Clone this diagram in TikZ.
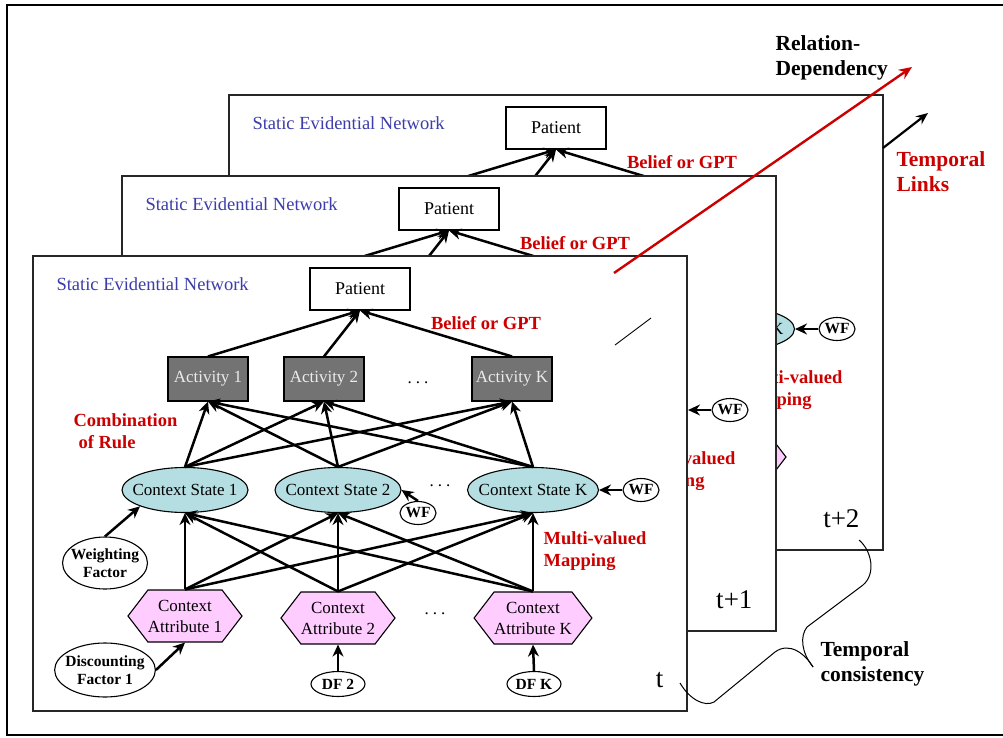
\documentclass[tikz,border=0pt]{standalone}
\usepackage{fontspec}
\setmainfont{Liberation Serif}
\usepackage{xcolor}
\usetikzlibrary{arrows.meta}
\usetikzlibrary{shapes.geometric}
\usetikzlibrary{shapes.symbols}

\definecolor{netblue}{RGB}{60,60,170}
\definecolor{rulered}{RGB}{204,0,0}
\definecolor{actgray}{RGB}{115,115,115}
\definecolor{statecyan}{RGB}{180,222,226}
\definecolor{attrpink}{RGB}{255,204,255}

\tikzset{
  frame/.style={draw=black!85, line width=1.3pt, fill=white},
  patient/.style={draw, line width=1.1pt, fill=white, minimum width=100pt, minimum height=42pt, font=\fontsize{18}{20}\selectfont},
  activity/.style={draw, line width=1.1pt, fill=actgray, text=black!8, minimum width=80pt, minimum height=44pt, font=\fontsize{17}{19}\selectfont},
  cstate/.style={ellipse, draw, line width=1.1pt, fill=statecyan, minimum width=126pt, minimum height=45pt, inner xsep=-8pt, inner ysep=0pt, font=\fontsize{17}{19}\selectfont},
  cattr/.style={signal, signal to=east and west, signal pointer angle=105, draw, line width=1.1pt, fill=attrpink, minimum width=114pt, minimum height=52pt, inner sep=0pt, align=center, font=\fontsize{17}{21}\selectfont},
  factor/.style={ellipse, draw, line width=1.1pt, fill=white, inner sep=0pt, align=center, font=\bfseries\fontsize{15.5}{18}\selectfont},
  lab/.style={text=rulered, align=left, font=\bfseries\fontsize{18.5}{22.5}\selectfont},
  biglab/.style={align=left, anchor=west, font=\bfseries\fontsize{21.5}{25}\selectfont},
  dots/.style={font=\fontsize{17}{19}\selectfont},
  link/.style={line width=2.5pt, -{Stealth[length=12pt,width=11pt]}},
}

\begin{document}
\begin{tikzpicture}[x=1pt, y=-1pt]
    \useasboundingbox (0,0) rectangle (1003,738);
    \draw[line width=1.4pt] (1003,5) -- (7,5) -- (7,735) -- (1003,735);

    % one static network per time slice, back to front
    % (slices 1 and 2 only get the parts that stick out)
    \foreach \fr/\dx/\dy/\tl/\la/\lb in {2/196/-161/t+2/{(564,401)}/{(651,337)},
                                        1/89/-80/t+1/{(581,384)}/{(660,327)},
                                        0/0/0/t/{(615,345)}/{(651,318)}} {
    \begin{scope}[shift={(\dx,\dy)}]
    \draw[frame] (33,256) rectangle (687,711);
    \node[anchor=west, text=netblue, font=\fontsize{18.5}{20}\selectfont] (title\fr) at (53,284) {Static Evidential Network};
    \node[patient] (pat\fr) at (360,289) {Patient};
    \node[activity] (a1\fr) at (208,379) {\ifnum\fr=0 Activity 1\fi};
    \node[activity] (a2\fr) at (324,379) {\ifnum\fr=0 Activity 2\fi};
    \node[activity] (aK\fr) at (512,379) {\ifnum\fr=0 Activity K\fi};
    \node[lab] (bel\fr) at (486,323) {Belief or GPT};
    \node[cstate] (sK\fr) at (533,490) {Context State K};
    \node[factor, minimum width=36pt, minimum height=23pt] (wfK\fr) at (641,490) {WF};
    \node[lab, anchor=west] (map\fr) at (540,551) {Multi-valued\\Mapping};
    \node[cattr] (cK\fr) at (533,618) {\ifnum\fr=0 Context\\Attribute K\fi};
    \node[anchor=east, font=\fontsize{27}{30}\selectfont] (tl\fr) at (667,680) {\tl};
    \foreach \a in {1,2,K} \draw[link] (a\a\fr.north) -- (pat\fr.south);
    \draw[link] (wfK\fr.west) -- (sK\fr.east);

    \ifnum\fr=0
    \node[dots] (ad\fr) at (418,383) {.\hspace{4pt}.\hspace{4pt}.};
    \node[lab, anchor=west] (comb\fr) at (70,431) {Combination\\\hspace{5pt}of Rule};
    \node[cstate] (s1\fr) at (185,490) {Context State 1};
    \node[cstate] (s2\fr) at (338,490) {Context State 2};
    \node[dots] (sd\fr) at (440,486) {.\hspace{4pt}.\hspace{4pt}.};
    \node[factor, minimum width=36pt, minimum height=23pt] (wf2\fr) at (418,513) {WF};
    \node[factor, inner xsep=-4pt, minimum height=52pt] (wt\fr) at (105,563) {Weighting\\Factor};
    \node[cattr] (c1\fr) at (185,616) {Context\\Attribute 1};
    \node[cattr] (c2\fr) at (338,618) {Context\\Attribute 2};
    \node[dots] (cd\fr) at (435,614) {.\hspace{4pt}.\hspace{4pt}.};
    \node[factor, inner xsep=-4pt, minimum height=54pt] (df1\fr) at (105,670) {Discounting\\Factor 1};
    \node[factor, minimum width=54pt, minimum height=25pt] (df2\fr) at (338,684) {DF 2};
    \node[factor, minimum width=54pt, minimum height=25pt] (dfK\fr) at (534,684) {DF K};

    \foreach \s in {1,2,K} {
      \foreach \a in {1,2,K} \draw[link] (s\s\fr.north) -- (a\a\fr.south);
    }
    \foreach \c in {1,2,K} {
      \foreach \s in {1,2,K} \draw[link] (c\c\fr.north) -- (s\s\fr.south);
    }
    \draw[link] (wt\fr.north) -- (s1\fr.south west);
    \draw[link] (wf2\fr.north) -- (s2\fr.east);
    \draw[link] (df1\fr.east) -- (c1\fr.south);
    \draw[link] (df2\fr.north) -- (c2\fr.south);
    \draw[link] (dfK\fr.north) -- (cK\fr.south);
    \fi
    \end{scope}
    % piece of the temporal link inside this slice
    \draw[line width=0.9pt] \la -- \lb;
    }

    \coordinate (tlkstart) at (883,148);
    \coordinate (tlkend) at (928,113);
    \draw[line width=2.2pt, -{Stealth[length=12pt,width=10pt]}] (tlkstart) -- (tlkend);
    \node[biglab, text=rulered] (tlinks) at (893,172) {Temporal\\Links};

    \coordinate (relstart) at (614,273);
    \coordinate (relend) at (912,67);
    \draw[rulered, line width=2.4pt, -{Stealth[length=13pt,width=11pt]}] (relstart) -- (relend);
    \node[biglab] (reldep) at (772,58) {Relation-\\Dependency};

    \node[biglab] (tcons) at (817,664) {Temporal\\consistency};
    \coordinate (brtip) at (813,667);
    \draw[line width=1pt] (680,683) .. controls (690,700) and (705,707) .. (714,702)
        -- (775,652) .. controls (790,641) and (806,655) .. (brtip);
    \draw[line width=1pt] (brtip) .. controls (801,652) and (800,636) .. (807,627)
        -- (863,585) .. controls (876,574) and (872,551) .. (859,540);
\end{tikzpicture}
\end{document}
